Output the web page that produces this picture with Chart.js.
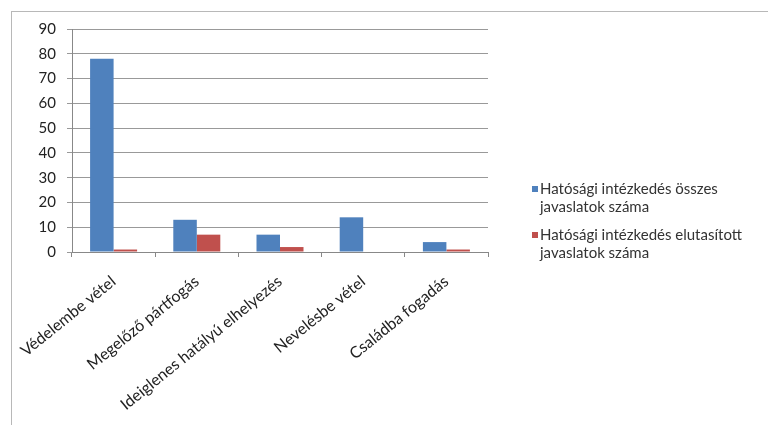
<!DOCTYPE html>
<html>
<head>
<meta charset="utf-8">
<script src="https://cdn.jsdelivr.net/npm/chart.js@4/dist/chart.umd.min.js"></script>
<style>
  html, body { margin: 0; padding: 0; background: #fff; }
  #wrap { position: relative; width: 768px; height: 425px; overflow: hidden; }
  #frame { position: absolute; left: 11px; top: 11px; width: 800px; height: 440px; border: 1px solid #b8b8b8; box-sizing: border-box; }
  #chart { position: absolute; left: 0; top: 0; }
  #legend { position: absolute; left: 532px; top: 180px; font-family: Lato, sans-serif; font-size: 15px; color: #333; line-height: 17.5px; }
  .item { position: relative; padding-left: 8px; margin-bottom: 11px; }
  .sw { position: absolute; left: 0; top: 6px; width: 6px; height: 6px; }
</style>
</head>
<body>
<div id="wrap">
  <div id="frame"></div>
  <canvas id="chart" width="768" height="425"></canvas>
  <div id="legend"></div>
</div>
<script>
const categories = ['Védelembe vétel', 'Megelőző pártfogás', 'Ideiglenes hatályú elhelyezés', 'Nevelésbe vétel', 'Családba fogadás'];
const seriesNames = [
  ['Hatósági intézkedés összes', 'javaslatok száma'],
  ['Hatósági intézkedés elutasított', 'javaslatok száma']
];
const totalProposals = [78, 13, 7, 14, 4];
const rejectedProposals = [1, 7, 2, 0, 1];
const yTicks = [0, 10, 20, 30, 40, 50, 60, 70, 80, 90];

const colors = ['#4f81bd', '#c0504d'];

const ctx = document.getElementById('chart').getContext('2d');
new Chart(ctx, {
  type: 'bar',
  data: {
    labels: categories,
    datasets: [
      { label: seriesNames[0].join(' '), data: totalProposals, backgroundColor: colors[0] },
      { label: seriesNames[1].join(' '), data: rejectedProposals, backgroundColor: colors[1] }
    ]
  },
  options: {
    responsive: false,
    animation: false,
    datasets: { bar: { categoryPercentage: 0.565, barPercentage: 1 } },
    layout: { padding: { left: 10, top: 29, right: 280, bottom: 0 } },
    plugins: { legend: { display: false }, tooltip: { enabled: false } },
    scales: {
      x: {
        grid: { drawOnChartArea: false, drawTicks: true, tickLength: 5, color: '#888' },
        border: { color: '#888' },
        ticks: {
          minRotation: 39, maxRotation: 39, padding: 15,
          color: '#222', font: { family: 'Lato', size: 16 }
        },
        afterFit: s => { s.height = 173; }
      },
      y: {
        min: 0, max: 90,
        afterBuildTicks: s => { s.ticks = yTicks.map(v => ({ value: v })); },
        grid: { color: '#999', tickLength: 5 },
        border: { color: '#888' },
        ticks: { padding: 11, color: '#222', font: { family: 'Lato', size: 15 } },
        afterFit: s => { s.width = 62; }
      }
    }
  }
});

const legend = document.getElementById('legend');
seriesNames.forEach((lines, i) => {
  const d = document.createElement('div');
  d.className = 'item';
  d.innerHTML = '<span class="sw" style="background:' + colors[i] + '"></span>' + lines.join('<br>');
  legend.appendChild(d);
});
</script>
</body>
</html>
